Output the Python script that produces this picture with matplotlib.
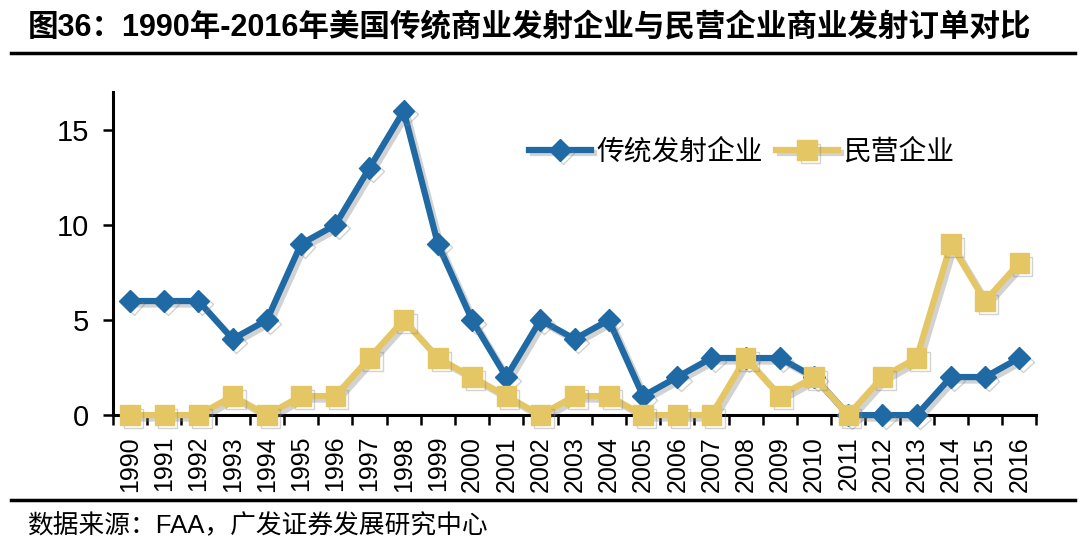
import matplotlib
matplotlib.use("Agg")
import matplotlib.pyplot as plt
import matplotlib.patheffects as pe
import numpy as np

plt.rcParams['font.family'] = ['Liberation Sans', 'Noto Sans CJK SC', 'DejaVu Sans']

years = [str(y) for y in range(1990, 2017)]
traditional = [6, 6, 6, 4, 5, 9, 10, 13, 16, 9, 5, 2, 5, 4, 5, 1, 2, 3, 3, 3, 2, 0, 0, 0, 2, 2, 3]
private = [0, 0, 0, 1, 0, 1, 1, 3, 5, 3, 2, 1, 0, 1, 1, 0, 0, 0, 3, 1, 2, 0, 2, 3, 9, 6, 8]
yticks = [0, 5, 10, 15]

title = "图36：1990年-2016年美国传统商业发射企业与民营企业商业发射订单对比"
source = "数据来源：FAA，广发证券发展研究中心"
label_trad = "传统发射企业"
label_priv = "民营企业"

blue = "#1f69a4"
gold = "#e5c664"

fig = plt.figure(figsize=(10.8, 5.44), dpi=100)
ax = fig.add_axes([0.1046, 0.237, 0.855, 0.594])

x = np.arange(len(years))
shadow = [pe.SimpleLineShadow(offset=(2.5, -2.5), shadow_color='gray', alpha=0.35), pe.Normal()]
ax.plot(x, traditional, color=blue, lw=4.5, marker='D', markersize=11,
        label=label_trad, clip_on=False, zorder=3, path_effects=shadow)
ax.plot(x, private, color=gold, lw=4.5, marker='s', markersize=14,
        label=label_priv, clip_on=False, zorder=4, path_effects=shadow)

ax.set_xlim(-0.5, len(years) - 0.5)
ax.set_ylim(0, 17)
ax.set_yticks(yticks)
ax.set_yticklabels([str(t) for t in yticks], fontsize=21)
ax.set_xticks(x)
ax.set_xticklabels(years, rotation=90, fontsize=18)
ax.set_xticks(np.arange(-0.5, len(years), 1), minor=True)
ax.tick_params(axis='x', which='major', length=0, pad=15)
ax.tick_params(axis='x', which='minor', length=7, width=1.8, direction='out')
ax.tick_params(axis='y', length=7, width=1.8, direction='out', pad=10)
for s in ['top', 'right']:
    ax.spines[s].set_visible(False)
ax.spines['left'].set_linewidth(2.2)
ax.spines['bottom'].set_linewidth(2.2)

leg = ax.legend(loc='center left', bbox_to_anchor=(0.451, 0.815), ncol=2, frameon=False,
                handlelength=2.2, columnspacing=0.5, handletextpad=0.2,
                borderaxespad=0, borderpad=0,
                prop={'family': ['Noto Sans CJK SC'], 'size': 20})

fig.text(0.026, 0.948, title, fontsize=22, fontweight='bold', va='center', ha='left')
fig.add_artist(plt.Line2D([0.01, 0.995], [0.903, 0.903], color='black', lw=2.5))
fig.add_artist(plt.Line2D([0.01, 0.995], [0.081, 0.081], color='black', lw=2.5))
fig.text(0.025, 0.033, source, fontsize=18.5, va='center', ha='left')

fig.savefig("out.png", dpi=100)
